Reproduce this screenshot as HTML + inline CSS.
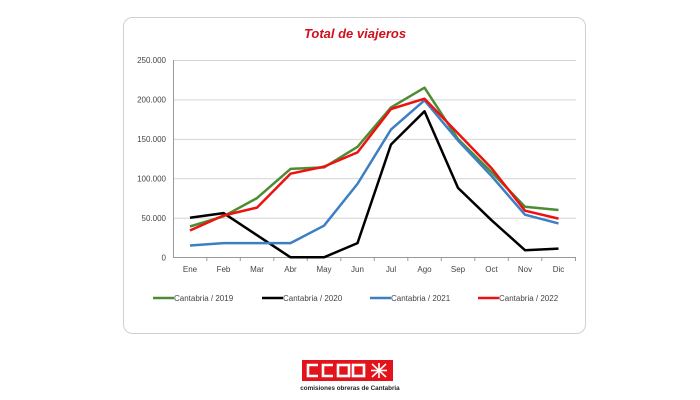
<!DOCTYPE html>
<html><head><meta charset="utf-8"><style>
html,body{margin:0;padding:0;background:#fff;}
svg{display:block;font-family:"Liberation Sans",sans-serif;}
</style></head><body>
<svg width="700" height="400" viewBox="0 0 700 400">
<rect x="123.5" y="17.5" width="462" height="316" rx="9" fill="#fff" stroke="#d0d0d0" stroke-width="1"/>
<text x="355" y="38" text-anchor="middle" font-size="13" font-weight="bold" font-style="italic" fill="#d0101c">Total de viajeros</text>
<g stroke="#d4d4d4" stroke-width="1">
<line x1="173" y1="60.5" x2="576" y2="60.5"/>
<line x1="173" y1="99.9" x2="576" y2="99.9"/>
<line x1="173" y1="139.4" x2="576" y2="139.4"/>
<line x1="173" y1="178.8" x2="576" y2="178.8"/>
<line x1="173" y1="218.2" x2="576" y2="218.2"/>
</g>
<line x1="173" y1="257.5" x2="576" y2="257.5" stroke="#999"/>
<line x1="173.5" y1="60" x2="173.5" y2="258" stroke="#999"/>
<g stroke="#999">
<line x1="206.8" y1="257" x2="206.8" y2="261"/><line x1="240.3" y1="257" x2="240.3" y2="261"/><line x1="273.8" y1="257" x2="273.8" y2="261"/><line x1="307.3" y1="257" x2="307.3" y2="261"/><line x1="340.8" y1="257" x2="340.8" y2="261"/><line x1="374.3" y1="257" x2="374.3" y2="261"/><line x1="407.8" y1="257" x2="407.8" y2="261"/><line x1="441.3" y1="257" x2="441.3" y2="261"/><line x1="474.8" y1="257" x2="474.8" y2="261"/><line x1="508.3" y1="257" x2="508.3" y2="261"/><line x1="541.8" y1="257" x2="541.8" y2="261"/><line x1="575.5" y1="257" x2="575.5" y2="261"/>
</g>
<g font-size="8" fill="#444" text-anchor="end">
<text x="166" y="63">250.000</text><text x="166" y="102.5">200.000</text><text x="166" y="142">150.000</text><text x="166" y="181.5">100.000</text><text x="166" y="221">50.000</text><text x="166" y="260.5">0</text>
</g>
<g font-size="8" fill="#444" text-anchor="middle">
<text x="190" y="272">Ene</text><text x="223.5" y="272">Feb</text><text x="257" y="272">Mar</text><text x="290.5" y="272">Abr</text><text x="324" y="272">May</text><text x="357.5" y="272">Jun</text><text x="391" y="272">Jul</text><text x="424.5" y="272">Ago</text><text x="458" y="272">Sep</text><text x="491.5" y="272">Oct</text><text x="525" y="272">Nov</text><text x="558.5" y="272">Dic</text>
</g>
<g fill="none" stroke-width="2.5" stroke-linejoin="round">
<polyline stroke="#4e8c33" points="190,226.5 223.5,216.3 257,198.1 290.5,168.9 324,167.4 357.5,146.8 391,107.4 424.5,87.7 458,139 491.5,172.1 525,206.8 558.5,210"/>
<polyline stroke="#000" points="190,217.8 223.5,213.1 257,235.2 290.5,257.3 324,257.3 357.5,243.1 391,144.5 424.5,111.3 458,187.9 491.5,220.2 525,250.2 558.5,248.6"/>
<polyline stroke="#3d7fc4" points="190,245.5 223.5,243.1 257,243.1 290.5,243.1 324,225.7 357.5,183.9 391,129.5 424.5,100.3 458,140.5 491.5,176 525,214.7 558.5,223.4"/>
<polyline stroke="#ee1111" points="190,230.5 223.5,215.5 257,207.6 290.5,173.7 324,166.6 357.5,152.4 391,109 424.5,98.7 458,133.4 491.5,168.1 525,210.7 558.5,218.6"/>
</g>
<g stroke-width="2.5">
<line x1="153" y1="298" x2="174" y2="298" stroke="#4e8c33"/>
<line x1="262" y1="298" x2="283" y2="298" stroke="#000"/>
<line x1="370" y1="298" x2="391" y2="298" stroke="#3d7fc4"/>
<line x1="478" y1="298" x2="499" y2="298" stroke="#ee1111"/>
</g>
<g font-size="8" fill="#444">
<text x="174" y="301">Cantabria / 2019</text>
<text x="283" y="301">Cantabria / 2020</text>
<text x="391" y="301">Cantabria / 2021</text>
<text x="499" y="301">Cantabria / 2022</text>
</g>
<rect x="302" y="360" width="91" height="21" fill="#e3131b"/>
<g fill="none" stroke="#fff" stroke-width="2.6">
<path d="M318,365 H308 V376 H318"/>
<path d="M333,365 H323 V376 H333"/>
<rect x="338" y="365" width="11" height="11"/>
<rect x="353" y="365" width="11" height="11"/>
</g>
<g stroke="#fff" stroke-width="1.6">
<line x1="372" y1="364" x2="386" y2="377"/><line x1="386" y1="364" x2="372" y2="377"/>
<line x1="379" y1="363" x2="379" y2="378"/><line x1="371" y1="370.5" x2="387" y2="370.5"/>
</g>
<text x="350" y="390" text-anchor="middle" font-size="6.3" fill="#222" font-weight="bold">comisiones obreras de Cantabria</text>
</svg>
</body></html>
